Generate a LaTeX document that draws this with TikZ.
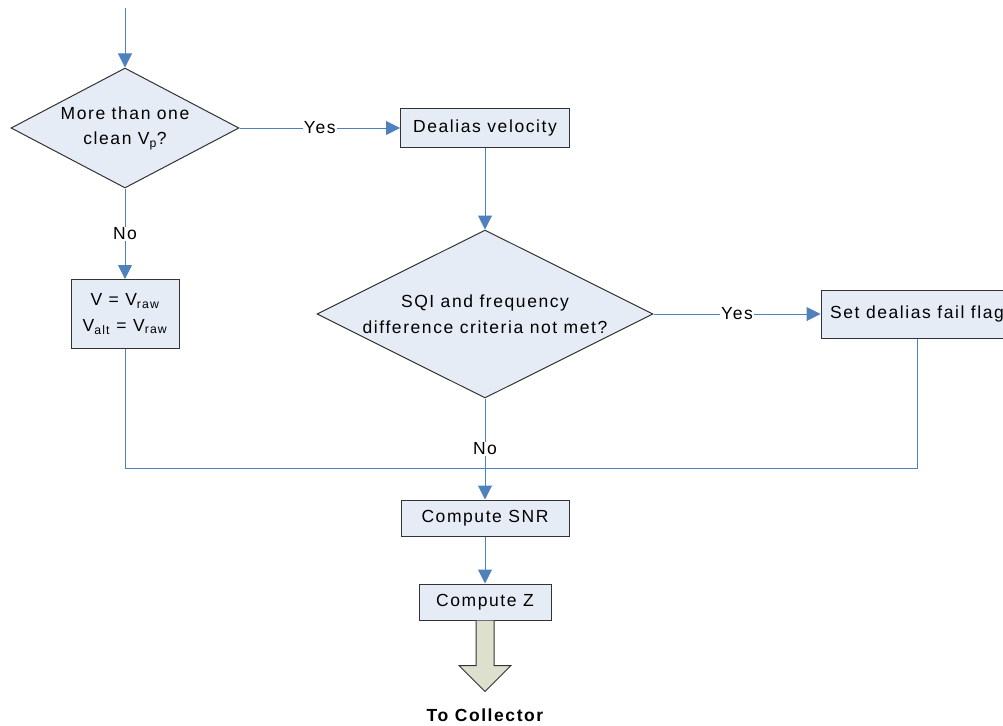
\documentclass[tikz,border=0pt]{standalone}
\usepackage{fontspec}
\setmainfont{Liberation Sans}[LetterSpace=9]
\usetikzlibrary{shapes.geometric,arrows.meta}
\newlength{\du}
\setlength{\du}{1pt}
\definecolor{flowblue}{rgb}{0.310, 0.506, 0.741}
\definecolor{boxfill}{rgb}{0.902, 0.925, 0.965}
\definecolor{boxline}{rgb}{0.200, 0.200, 0.200}
\definecolor{exitfill}{rgb}{0.867, 0.878, 0.800}

\begin{document}
\begin{tikzpicture}[
  every node/.style={font=\fontsize{17.5}{25.5}\selectfont},
  procbox/.style={draw=boxline, fill=boxfill, line width=1pt, inner sep=0pt, align=center},
  decision/.style={diamond, draw=boxline, fill=boxfill, line width=1pt, inner sep=0pt, align=center},
  flow/.style={draw=flowblue, line width=1pt, -{Triangle[length=14pt,width=14pt]}},
  link/.style={draw=flowblue, line width=1pt},
  answer/.style={fill=white, inner sep=1pt},
  exitarrow/.style={draw=boxline, fill=exitfill, line width=1pt, line join=miter}]
\pgftransformyscale{-1.000000}
\useasboundingbox (0\du,0\du) rectangle (1003\du,725\du);
\clip (0\du,0\du) rectangle (1003\du,725\du);
% setfont left to latex
\coordinate (start) at (125\du,8\du);
\node[decision, minimum width=228\du, minimum height=120\du, aspect=1.9] (onevp) at (125\du,128\du){More than one\\clean V\textsubscript{p}?};
\node[procbox, minimum width=169\du, minimum height=39\du] (dealias) at (485\du,128\du){Dealias velocity};
\node[procbox, minimum width=108\du, minimum height=69\du] (vraw) at (125\du,314\du){V = V\textsubscript{raw}\\V\textsubscript{alt} = V\textsubscript{raw}};
\node[decision, minimum width=336\du, minimum height=168\du, aspect=2] (sqi) at (485\du,314\du){SQI and frequency\\difference criteria not met?};
\node[procbox, minimum width=192\du, minimum height=48\du] (failflag) at (917\du,314\du){Set dealias fail flag};
\coordinate (merge) at (485\du,468\du);
\node[procbox, minimum width=168\du, minimum height=36\du] (snr) at (485\du,518\du){Compute SNR};
\node[procbox, minimum width=132\du, minimum height=36\du] (compz) at (485\du,602\du){Compute Z};
\node[font=\fontsize{17.5}{25.5}\selectfont\bfseries] (collector) at (485\du,715\du){To Collector};
% connectors
\draw[flow] (start) -- (onevp.north);
\draw[flow] (onevp.east) -- node[answer]{Yes} (dealias.west);
\draw[flow] (onevp.south) -- node[answer]{No} (vraw.north);
\draw[flow] (dealias.south) -- (sqi.north);
\draw[flow] (sqi.east) -- node[answer]{Yes} (failflag.west);
\draw[link] (vraw.south) |- (merge);
\draw[link] (failflag.south) |- (merge);
\draw[flow] (sqi.south) -- node[answer]{No} (snr.north);
\draw[flow] (snr.south) -- (compz.north);
% exit arrow
\draw[exitarrow] ([xshift=-9\du]compz.south) -- ++(0\du,45\du) -- ++(-17\du,0\du) -- ++(26\du,26\du) -- ++(26\du,-26\du) -- ++(-17\du,0\du) -- ([xshift=9\du]compz.south);
\end{tikzpicture}
\end{document}
